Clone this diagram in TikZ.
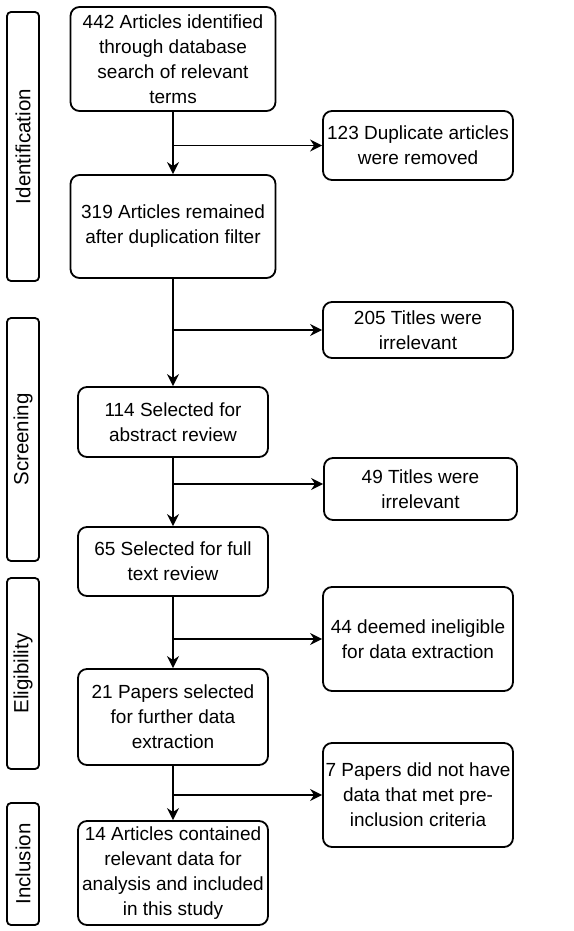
\documentclass[tikz,border=0pt]{standalone}
\usepackage{fontspec}
\setmainfont{Liberation Sans}
\usetikzlibrary{arrows.meta}

\begin{document}
\begin{tikzpicture}[->,>={Stealth[length=12pt,width=12pt]},x=1pt,y=-1pt,
	line width=1.8pt,
	box/.style={draw,rounded corners=9pt,align=center,inner sep=0pt,
		font=\fontsize{19}{25}\selectfont},
	phase/.style={draw,rounded corners=4pt,rotate=90,minimum height=32pt,
		inner sep=0pt,font=\fontsize{20.5}{24}\selectfont}]
	\useasboundingbox (0,0) rectangle (573,931);

	\node[phase,minimum width=269pt](idf) at (23,146.5){Identification};
	\node[phase,minimum width=243pt](scr) at (23,439.5){Screening};
	\node[phase,minimum width=191pt](elg) at (23,673.5){Eligibility};
	\node[phase,minimum width=122pt](inc) at (23,864){Inclusion};

	\node[box,minimum width=205pt,minimum height=104pt](A) at (173,59)
		{442 Articles identified\\through database\\search of relevant\\terms};
	\node[box,minimum width=205pt,minimum height=103pt](C) at (173,226.5)
		{319 Articles remained\\after duplication filter};
	\node[box,minimum width=190pt,minimum height=70pt](E) at (173,422)
		{114 Selected for\\abstract review};
	\node[box,minimum width=190pt,minimum height=69pt](G) at (173,561.5)
		{65 Selected for full\\text review};
	\node[box,minimum width=190pt,minimum height=96pt](I) at (173,717)
		{21 Papers selected\\for further data\\extraction};
	\node[box,minimum width=190pt,minimum height=104pt](K) at (173,873)
		{14 Articles contained\\relevant data for\\analysis and included\\in this study};

	\node[box,minimum width=190pt,minimum height=69pt](B) at (418,145.5)
		{123 Duplicate articles\\were removed};
	\node[box,minimum width=190pt,minimum height=56pt](D) at (418,330)
		{205 Titles were\\irrelevant};
	\node[box,minimum width=193pt,minimum height=62pt](F) at (420.5,489)
		{49 Titles were\\irrelevant};
	\node[box,minimum width=190pt,minimum height=104pt](H) at (418,639)
		{44 deemed ineligible\\for data extraction};
	\node[box,minimum width=190pt,minimum height=104pt](J) at (418,795)
		{7 Papers did not have\\data that met pre-\\inclusion criteria};

	\coordinate (AB) at (A.south |- B.west);
	\coordinate (CD) at (C.south |- D.west);
	\coordinate (EF) at (E.south |- 0,484);
	\coordinate (GH) at (G.south |- H.west);
	\coordinate (IJ) at (I.south |- J.west);

	\path (A) edge (C)
	      (C) edge (E)
	      (E) edge (G)
	      (G) edge (I)
	      (I) edge (K)
	      (AB) edge (B)
	      (CD) edge (D)
	      (EF) edge (F.west |- EF)
	      (GH) edge (H)
	      (IJ) edge (J);
\end{tikzpicture}
\end{document}
